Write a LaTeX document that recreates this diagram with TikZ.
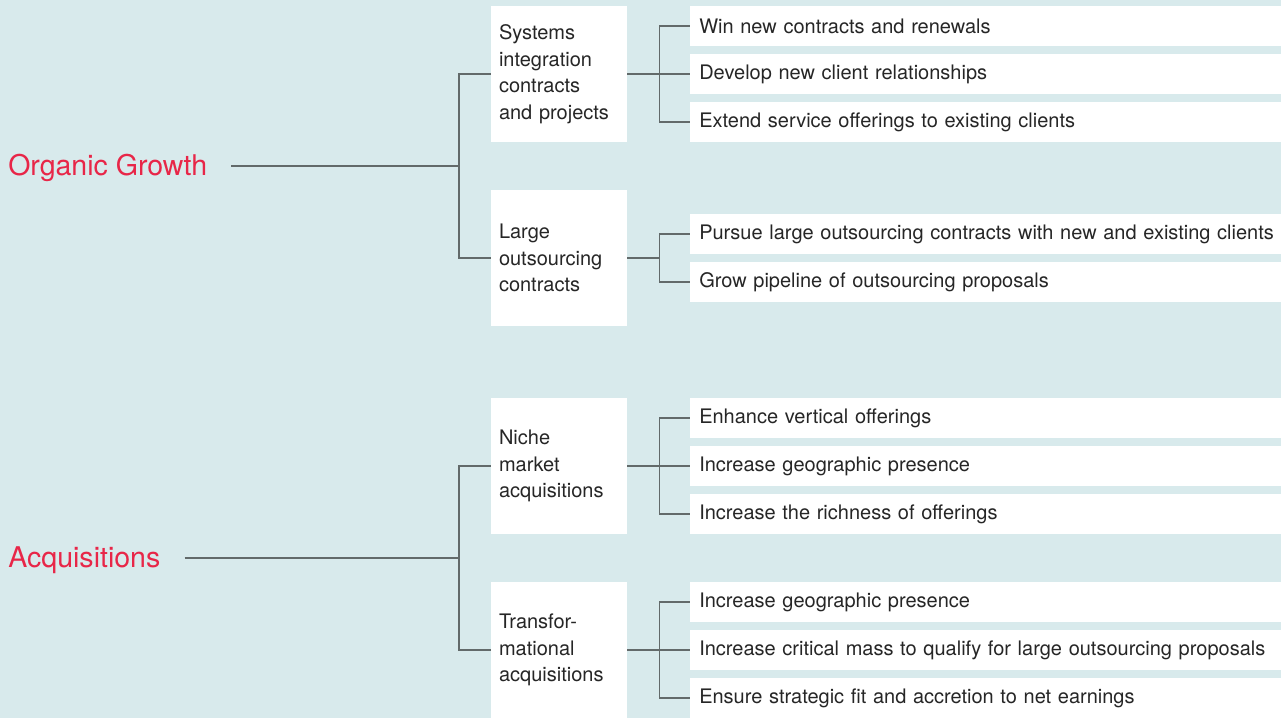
\documentclass[tikz,border=0pt]{standalone}
\usepackage{fontspec}
\setmainfont{TeX Gyre Heros}
\definecolor{bgblue}{RGB}{216,234,236}
\definecolor{topicred}{RGB}{232,38,72}
\definecolor{linkgray}{RGB}{98,106,106}
\definecolor{textgray}{RGB}{38,38,38}
\begin{document}
\begin{tikzpicture}[x=0.75pt, y=-0.75pt,
		topic/.style = {anchor=west, inner sep=0pt, text=topicred, font=\fontsize{21.4}{24}\selectfont},
		group/.style = {fill=white, minimum width=102pt, minimum height=102pt, text width=90pt, inner xsep=6pt, align=left, text=textgray, font=\fontsize{15}{19.9}\selectfont},
		item/.style = {fill=white, anchor=west, minimum height=30pt, text width=460pt, inner xsep=6.75pt, align=left, text=textgray, font=\fontsize{15}{18}\selectfont},
		link/.style = {draw=linkgray, line width=1pt}]

	\fill[bgblue] (0,0) rectangle (1281,718);
	\useasboundingbox (0,0) rectangle (1281,718);

	% left side
	\node[topic] (og) at (8,168) {Organic Growth};
	\node[topic] (acq) at (8,560) {Acquisitions};
	\coordinate (ogj) at (459,166);
	\coordinate (acqj) at (459,558);

	% groups
	\node[group] (sa) at (559,74) {Systems\\integration\\contracts\\and projects};
	\node[group] (sb) at (559,258) {Large\\outsourcing\\contracts};
	\node[group] (sc) at (559,466) {Niche\\market\\acquisitions};
	\node[group] (sd) at (559,650) {Transfor-\\mational\\acquisitions};

	% items
	\node[item] (a1) at (690,26) {Win new contracts and renewals};
	\node[item] (a2) at (690,74) {Develop new client relationships};
	\node[item] (a3) at (690,122) {Extend service offerings to existing clients};
	\node[item] (b1) at (690,234) {Pursue large outsourcing contracts with new and existing clients};
	\node[item] (b2) at (690,282) {Grow pipeline of outsourcing proposals};
	\node[item] (c1) at (690,418) {Enhance vertical offerings};
	\node[item] (c2) at (690,466) {Increase geographic presence};
	\node[item] (c3) at (690,514) {Increase the richness of offerings};
	\node[item] (d1) at (690,602) {Increase geographic presence};
	\node[item] (d2) at (690,650) {Increase critical mass to qualify for large outsourcing proposals};
	\node[item] (d3) at (690,698) {Ensure strategic fit and accretion to net earnings};

	% topic to groups
	\draw[link] ([xshift=18pt]og.east |- ogj) -- (ogj);
	\draw[link] (ogj) |- (sa.west);
	\draw[link] (ogj) |- (sb.west);
	\draw[link] ([xshift=18pt]acq.east |- acqj) -- (acqj);
	\draw[link] (acqj) |- (sc.west);
	\draw[link] (acqj) |- (sd.west);

	% groups to items
	\draw[link] (sa.east) -- (a2.west);
	\draw[link] (sa.east) ++(32,0) |- (a1.west);
	\draw[link] (sa.east) ++(32,0) |- (a3.west);
	\draw[link] (sb.east) -- ++(32,0) coordinate (bj);
	\draw[link] (bj) |- (b1.west);
	\draw[link] (bj) |- (b2.west);
	\draw[link] (sc.east) -- (c2.west);
	\draw[link] (sc.east) ++(32,0) |- (c1.west);
	\draw[link] (sc.east) ++(32,0) |- (c3.west);
	\draw[link] (sd.east) -- (d2.west);
	\draw[link] (sd.east) ++(32,0) |- (d1.west);
	\draw[link] (sd.east) ++(32,0) |- (d3.west);

\end{tikzpicture}
\end{document}
